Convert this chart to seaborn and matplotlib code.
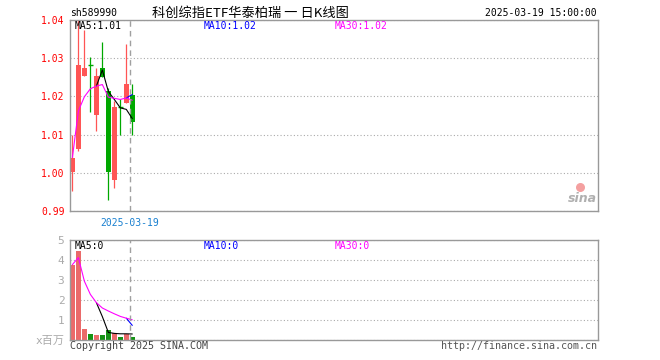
import numpy as np
import pandas as pd
import seaborn as sns
import matplotlib.pyplot as plt

# daily K-line values (11 trading days)
days = list(range(11))
opens = [1.0001, 1.0061, 1.0254, 1.0282, 1.0151, 1.0274, 1.0215, 0.9981, 1.0171, 1.0184, 1.0203]
closes = [1.0039, 1.0283, 1.0274, 1.0282, 1.0254, 1.0252, 1.0002, 1.0171, 1.0171, 1.0232, 1.0133]
highs = [1.0098, 1.0400, 1.0374, 1.0303, 1.0274, 1.0342, 1.0222, 1.0188, 1.0193, 1.0338, 1.0232]
lows = [0.9952, 1.0058, 1.0254, 1.0159, 1.0109, 1.0252, 0.9928, 0.9961, 1.0099, 1.0182, 1.0098]

# moving averages on price
nan = np.nan
ma5_price = [nan, nan, nan, nan, 1.0227, 1.0269, 1.0213, 1.0192, 1.0170, 1.0166, 1.0142]
ma10_price = [nan] * 9 + [1.0196, 1.0205]
ma30_price = [1.0040, 1.0162, 1.0199, 1.0220, 1.0227, 1.0231, 1.0198, 1.0195, 1.0192, 1.0196, 1.0190]

# volume (millions) and its moving averages
volume = [3.77, 4.47, 0.57, 0.30, 0.25, 0.25, 0.52, 0.35, 0.17, 0.28, 0.17]
ma5_vol = [nan, nan, nan, nan, 1.87, 1.17, 0.38, 0.33, 0.31, 0.31, 0.30]
ma10_vol = [nan] * 9 + [1.09, 0.73]
ma30_vol = [3.77, 4.12, 2.94, 2.28, 1.87, 1.60, 1.45, 1.31, 1.18, 1.09, 1.01]

price_ticks = [0.99, 1.00, 1.01, 1.02, 1.03, 1.04]
price_labels = ["0.99", "1.00", "1.01", "1.02", "1.03", "1.04"]
vol_ticks = [0, 1, 2, 3, 4, 5]
vol_labels = ["x百万", "1", "2", "3", "4", "5"]
last_date = "2025-03-19"
date_pos = 9.6

RED = "#ff5555"
GREEN = "#00a800"
GRAY = "#a0a0a0"

sns.set_style("white")
plt.rcParams['font.family'] = ['DejaVu Sans Mono', 'Noto Sans CJK SC']

W, H = 660, 360
fig = plt.figure(figsize=(6.6, 3.6), dpi=100)


def box(l, t, r, b):
    return [l / W, 1 - b / H, (r - l) / W, (b - t) / H]


def ftext(x, y, s, **kw):
    fig.text(x / W, 1 - y / H, s, va="center", **kw)


ax = fig.add_axes(box(70, 20, 598, 211))
axv = fig.add_axes(box(70, 240, 598, 340))

df = pd.DataFrame({"day": days, "open": opens, "close": closes,
                   "high": highs, "low": lows, "vol": volume})
df["dir"] = np.where(df["close"] > df["open"], "up", "down")
pal = {"up": RED, "down": GREEN}
colors = df["dir"].map(pal)

# candles
ax.vlines(df["day"], df["low"], df["high"], colors=colors, lw=0.9)
body_bottom = df[["open", "close"]].min(axis=1)
body_h = (df["close"] - df["open"]).abs()
ax.bar(df["day"], body_h, bottom=body_bottom, width=0.8, color=colors, linewidth=0)
doji = df[body_h < 1e-4]
ax.hlines(doji["close"], doji["day"] - 0.42, doji["day"] + 0.42, colors=GREEN, lw=1)

sns.lineplot(x=days, y=ma5_price, color="black", lw=0.8, ax=ax)
sns.lineplot(x=days, y=ma10_price, color="#0000ff", lw=0.8, ax=ax)
sns.lineplot(x=days, y=ma30_price, color="#ff00ff", lw=0.8, ax=ax)

# volume
sns.barplot(data=df, x="day", y="vol", hue="dir", palette=pal, native_scale=True,
            dodge=False, width=0.8, linewidth=0, errorbar=None, legend=False, ax=axv)
sns.lineplot(x=days, y=ma5_vol, color="black", lw=0.8, ax=axv)
sns.lineplot(x=days, y=ma10_vol, color="#0000ff", lw=0.8, ax=axv)
sns.lineplot(x=days, y=ma30_vol, color="#ff00ff", lw=0.8, ax=axv)

for a in (ax, axv):
    a.set_xlim(-0.40, 87.75)
    a.set_xlabel("")
    a.set_ylabel("")
    a.axvline(date_pos, color=GRAY, ls=(0, (4, 3)), lw=1)
    a.yaxis.grid(True, ls=(0, (1, 2)), color="#aaaaaa", lw=0.8)
    for sp in a.spines.values():
        sp.set_color("#999999")
        sp.set_linewidth(1)

ax.set_ylim(0.99, 1.04)
ax.set_yticks(price_ticks)
ax.set_yticklabels(price_labels, color="#ff0000", fontsize=7)
ax.tick_params(axis="y", length=0, pad=4)
ax.set_xticks([date_pos])
ax.set_xticklabels([last_date], color="#1a80d0", fontsize=7)
ax.tick_params(axis="x", direction="in", length=3, color=GRAY, pad=5)

axv.set_ylim(0, 5)
axv.set_yticks(vol_ticks)
axv.set_yticklabels(vol_labels, color="#aaaaaa", fontsize=8)
axv.tick_params(axis="y", length=0, pad=4)
axv.set_xticks([])

# header
ftext(70, 13, "sh589990", fontsize=7, color="black")
ftext(250, 13, "科创综指ETF华泰柏瑞 一 日K线图", fontsize=9.5, ha="center",
      family=["Noto Sans CJK SC", "DejaVu Sans"], color="black")
ftext(597, 13, "2025-03-19 15:00:00", fontsize=7, ha="right", color="black")

# MA labels
ftext(75, 26, "MA5:1.01", fontsize=7, color="black")
ftext(204, 26, "MA10:1.02", fontsize=7, color="#0000ff")
ftext(335, 26, "MA30:1.02", fontsize=7, color="#ff00ff")
ftext(75, 246, "MA5:0", fontsize=7, color="black")
ftext(204, 246, "MA10:0", fontsize=7, color="#0000ff")
ftext(335, 246, "MA30:0", fontsize=7, color="#ff00ff")

# footer
ftext(70, 346, "Copyright 2025 SINA.COM", fontsize=7.2, color="#444444")
ftext(597, 346, "http://finance.sina.com.cn", fontsize=7.2, ha="right", color="#555555")

# sina watermark
ftext(597, 199, "sina", fontsize=9, ha="right", style="italic", weight="bold",
      family="DejaVu Sans", color="#b0b0b0")
ax.scatter([0.966], [0.125], s=30, color="#f4a0a0", transform=ax.transAxes, zorder=1)

fig.savefig("out.png", dpi=100)
